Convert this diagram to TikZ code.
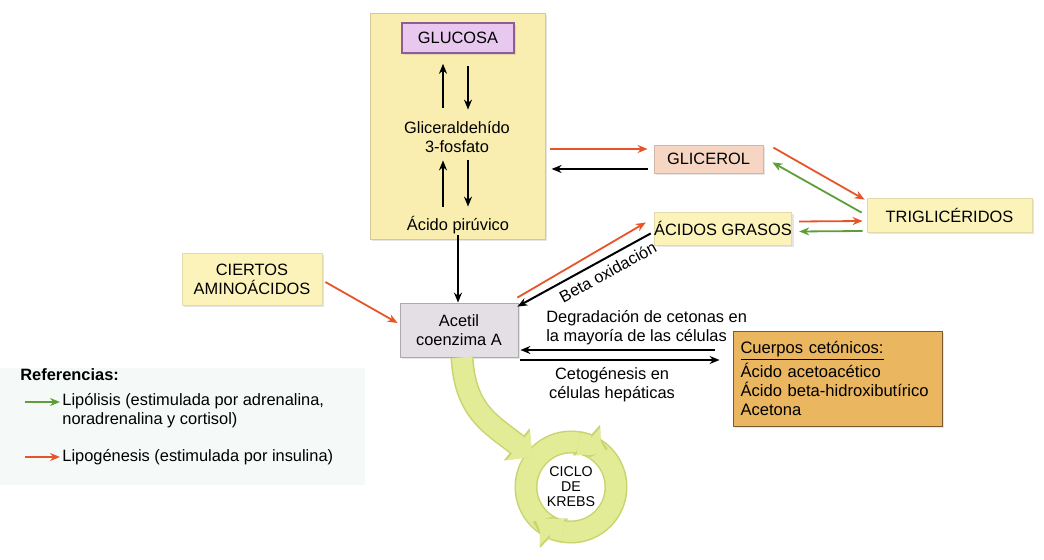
\documentclass[tikz,border=0pt]{standalone}
\usepackage{fontspec}
\setmainfont{Liberation Sans}
\usepackage{tikz}
\usetikzlibrary{arrows.meta,calc,shadows}

\definecolor{panelyel}{HTML}{F9EDB0}
\definecolor{lightyel}{HTML}{FBF3BA}
\definecolor{glucfill}{HTML}{E8C8EE}
\definecolor{glucdraw}{HTML}{8E5C96}
\definecolor{acetfill}{HTML}{E4DFE4}
\definecolor{acetdraw}{HTML}{B0A8B0}
\definecolor{glicfill}{HTML}{F6D6C2}
\definecolor{cuerfill}{HTML}{EAB660}
\definecolor{cuerdraw}{HTML}{7A5A30}
\definecolor{lipored}{HTML}{E8542A}
\definecolor{lipogrn}{HTML}{5E9E3A}
\definecolor{ringfill}{HTML}{E2EC96}
\definecolor{ringdark}{HTML}{C9D46E}
\definecolor{legendbg}{HTML}{F5FAF9}

\newcommand\dgfont{\fontsize{8.2}{9.5}\selectfont}

\begin{document}
\begin{tikzpicture}[
  x=0.5pt, y=-0.5pt, font=\dgfont,
  box/.style={rectangle, inner sep=0pt, align=center,
              drop shadow={shadow xshift=1.2pt, shadow yshift=-1.2pt, opacity=.2}},
  arr/.style={-{Stealth[length=5pt,width=4pt]}, line width=1pt},
  redarr/.style={-{Stealth[length=5pt,width=4pt]}, line width=0.9pt, draw=lipored},
  grnarr/.style={-{Stealth[length=5pt,width=4pt]}, line width=0.9pt, draw=lipogrn},
  ringedge/.style={-{Triangle[length=10pt,width=20pt]}, line width=11.5pt, draw=ringdark},
  ringarr/.style={-{Triangle[length=9pt,width=18pt]}, line width=10pt, draw=ringfill},
]
  \useasboundingbox (0,0) rectangle (1044,560);
  \fill[white] (0,0) rectangle (1044,560);
  \fill[legendbg] (0,368) rectangle (365,485);

  % glycolysis column
  \node[box, fill=panelyel, draw=panelyel!85!black, minimum width=87.5pt, minimum height=113pt] (panel) at (457.5,126) {};
  \node[box, fill=glucfill, draw=glucdraw, line width=0.8pt, minimum width=56pt, minimum height=15pt] (glucosa) at (458,38) {GLUCOSA};
  \node[align=center, inner sep=0pt, minimum height=20pt] (gli) at (457,137) {Gliceraldehído\\3-fosfato};
  \node[inner sep=0pt, minimum height=10pt] (piru) at (458,225) {Ácido pirúvico};
  \node[box, fill=acetfill, draw=acetdraw, minimum width=59pt, minimum height=27pt] (acetil) at (459,330) {Acetil\\coenzima A};

  % lipids
  \node[box, fill=glicfill, draw=glicfill!85!black, minimum width=54.5pt, minimum height=14pt] (glicerol) at (708.5,159) {GLICEROL};
  \node[box, fill=lightyel, draw=lightyel!90!black, minimum width=82.5pt, minimum height=17pt] (trig) at (949.5,215) {TRIGLICÉRIDOS};
  \node[box, fill=lightyel, draw=lightyel!90!black, minimum width=67pt, minimum height=16.5pt] (grasos) at (723,228.5) {ÁCIDOS GRASOS};
  \node[box, fill=lightyel, draw=lightyel!90!black, minimum width=70pt, minimum height=26pt] (amino) at (252,279) {CIERTOS\\AMINOÁCIDOS};
  \node[box, fill=cuerfill, draw=cuerdraw, minimum width=104.5pt, minimum height=47.5pt,
        align=left, text width=97pt, font=\fontsize{8.3}{9.5}\selectfont] (cuerpos) at (837.5,378.5)
        {\underline{Cuerpos cetónicos:}\\Ácido acetoacético\\Ácido beta-hidroxibutírico\\Acetona};

  % column arrows
  \draw[arr] ($(gli.north)+(-14,-9)$) -- ($(glucosa.south)+(-15,10)$);
  \draw[arr] ($(glucosa.south)+(10,12)$) -- ($(gli.north)+(11,-7)$);
  \draw[arr] ($(piru.north)+(-15,-8)$) -- ($(gli.south)+(-14,3)$);
  \draw[arr] ($(gli.south)+(11,3)$) -- ($(piru.north)+(10,-8)$);
  \draw[arr] (piru.south) -- (piru.south |- acetil.north);

  \draw[redarr] ($(glicerol.west)+(-104,-10)$) -- ($(glicerol.west)+(-6,-10)$);
  \draw[arr] ($(glicerol.west)+(-6,10)$) -- ($(glicerol.west)+(-102,10)$);
  \draw[redarr] ($(glicerol.north east)+(10,3)$) -- ($(trig.north west)+(-2,2)$);
  \draw[grnarr] ($(trig.north west)+(-5,15)$) -- ($(glicerol.south east)+(9,-11)$);
  \draw[redarr] ($(grasos.east)+(7,-7)$) -- ($(trig.west)+(-4,6)$);
  \draw[grnarr] ($(trig.west)+(-4,16)$) -- ($(grasos.east)+(7,3)$);
  \draw[redarr] ($(acetil.north east)+(-1,-5)$) -- ($(grasos.west)+(-8,-6)$);
  \draw[arr] ($(grasos.south west)+(-3,-12)$) --
      node[sloped, below, pos=0.37, inner sep=3pt] (beta) {Beta oxidación} ($(acetil.north east)+(-1,4)$);
  \draw[redarr] ($(amino.east)+(3,3)$) -- ($(acetil.west)+(-2,-7)$);

  % ketone bodies
  \draw[arr] ($(cuerpos.west)+(-18,-28.5)$) --
      node[above, pos=0.35, align=left, inner sep=2pt] (degr) {Degradación de cetonas en\\la mayoría de las células}
      ($(acetil.east)+(2,20)$);
  \draw[arr] ($(acetil.east)+(2,30)$) --
      node[below, pos=0.46, align=center, inner sep=3pt] (ceto) {Cetogénesis en\\células hepáticas}
      ($(cuerpos.west)+(-13,-18.5)$);

  % Krebs cycle
  \node[align=center, inner sep=0pt, font=\fontsize{7.1}{7.5}\selectfont] (krebs) at (571,487) {CICLO\\DE\\KREBS};
  \draw[ringdark, line width=11.5pt] (krebs) circle[radius=45];
  \draw[ringfill, line width=10pt] (krebs) circle[radius=45];
  \draw[ringedge] ($(krebs)+(-80:45)$) arc[start angle=-80, end angle=-48, radius=45];
  \draw[ringarr] ($(krebs)+(-80:45)$) arc[start angle=-80, end angle=-48, radius=45];
  \draw[ringedge] ($(krebs)+(100:45)$) arc[start angle=100, end angle=134, radius=45];
  \draw[ringarr] ($(krebs)+(100:45)$) arc[start angle=100, end angle=134, radius=45];
  \draw[ringedge] ($(acetil.south)+(3,0)$) .. controls +(3,55) and +(-40,-32) .. ($(krebs)+(-142:49)$);
  \draw[ringarr] ($(acetil.south)+(3,0)$) .. controls +(3,55) and +(-40,-32) .. ($(krebs)+(-142:49)$);

  % legend
  \node[anchor=west, inner sep=0pt, font=\dgfont\bfseries] (refs) at (20,375) {Referencias:};
  \node[anchor=west, align=left, inner sep=0pt] (lipol) at (62,411) {Lipólisis (estimulada por adrenalina,\\noradrenalina y cortisol)};
  \node[anchor=west, inner sep=0pt] (lipog) at (62,457) {Lipogénesis (estimulada por insulina)};
  \coordinate (lgstart) at (25,402);
  \coordinate (lrstart) at (25,457);
  \draw[grnarr] (lgstart) -- ([xshift=-1pt]lgstart -| lipol.west);
  \draw[redarr] (lrstart) -- ([xshift=-1pt]lipog.west);
\end{tikzpicture}
\end{document}
